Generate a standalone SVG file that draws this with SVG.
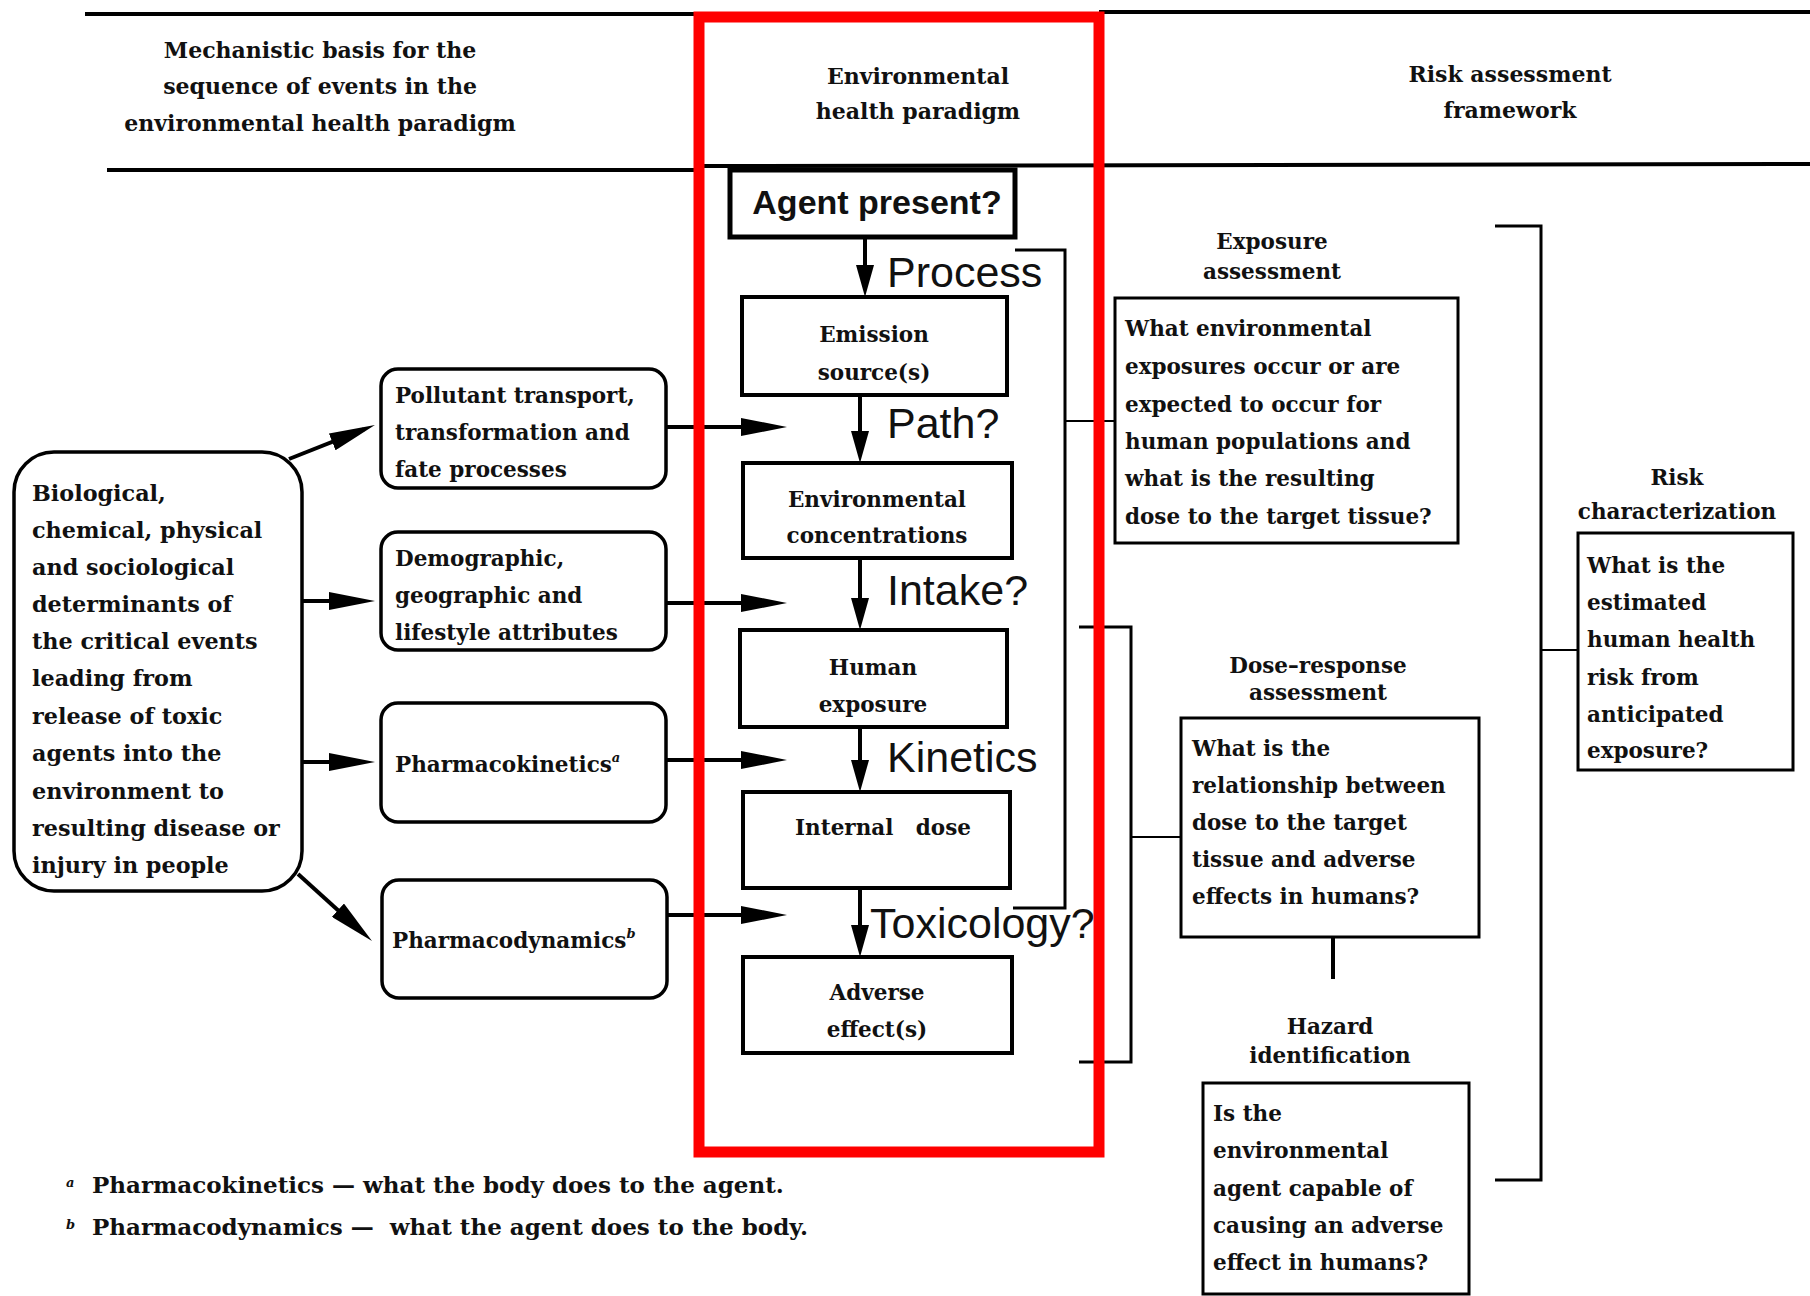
<svg xmlns="http://www.w3.org/2000/svg" width="1810" height="1296" viewBox="0 0 1810 1296">
<style>
.t{font-family:"DejaVu Serif","Liberation Serif",serif;font-weight:bold;font-size:21.5px;fill:#111}
.big{font-size:22.3px}
.fn{font-size:23px}
.c{text-anchor:middle}
.hd{font-family:"DejaVu Serif","Liberation Serif",serif;font-weight:bold;font-size:22px;fill:#111;text-anchor:middle}
.s{font-family:"Liberation Sans",Arial,sans-serif;font-size:43px;fill:#111}
.sb{font-family:"Liberation Sans",Arial,sans-serif;font-size:34px;font-weight:bold;fill:#111;text-anchor:middle}
.cbox{fill:#fff;stroke:#000;stroke-width:4}
.rbox{fill:#fff;stroke:#000;stroke-width:3.5}
.qbox{fill:#fff;stroke:#000;stroke-width:3}
.arr{stroke:#000;stroke-width:4;fill:none}
.br{stroke:#000;stroke-width:3;fill:none}
.ln{stroke:#000;stroke-width:2;fill:none}
.rule{stroke:#000;stroke-width:4}
.sup{font-size:13px;font-style:italic}
</style>
<defs>
<marker id="ah" markerUnits="userSpaceOnUse" viewBox="0 0 46 18" markerWidth="46" markerHeight="18" refX="34" refY="9" orient="auto"><path d="M0,0 L46,9 L0,18 Z" fill="#000"/></marker>
<marker id="av" markerUnits="userSpaceOnUse" viewBox="0 0 32 18" markerWidth="32" markerHeight="18" refX="24" refY="9" orient="auto"><path d="M0,0 L32,9 L0,18 Z" fill="#000"/></marker>
</defs>
<rect width="1810" height="1296" fill="#fff"/>

<g id="header">
<line class="rule" x1="85" y1="14" x2="699" y2="14"/>
<line class="rule" x1="1099" y1="12" x2="1810" y2="12"/>
<line class="rule" x1="107" y1="170" x2="699" y2="170"/>
<line class="rule" x1="699" y1="166" x2="1810" y2="164"/>
<text class="hd" x="320" y="58">Mechanistic basis for the</text>
<text class="hd" x="320" y="94">sequence of events in the</text>
<text class="hd" x="320" y="131">environmental health paradigm</text>
<text class="hd" x="918" y="84">Environmental</text>
<text class="hd" x="918" y="119">health paradigm</text>
<text class="hd" x="1510" y="82">Risk assessment</text>
<text class="hd" x="1510" y="118">framework</text>
</g>

<g id="connectors">
<line class="arr" x1="289" y1="459" x2="363.8" y2="429.4" marker-end="url(#ah)"/>
<line class="arr" x1="302" y1="601" x2="363" y2="601" marker-end="url(#ah)"/>
<line class="arr" x1="302" y1="762" x2="363" y2="762" marker-end="url(#ah)"/>
<line class="arr" x1="298" y1="874" x2="363.1" y2="933" marker-end="url(#ah)"/>
<line class="arr" x1="666" y1="427" x2="775" y2="427" marker-end="url(#ah)"/>
<line class="arr" x1="666" y1="603" x2="775" y2="603" marker-end="url(#ah)"/>
<line class="arr" x1="666" y1="760" x2="775" y2="760" marker-end="url(#ah)"/>
<line class="arr" x1="667" y1="915" x2="775" y2="915" marker-end="url(#ah)"/>
<line class="arr" x1="865" y1="237" x2="865" y2="289" marker-end="url(#av)"/>
<line class="arr" x1="860" y1="395" x2="860" y2="455" marker-end="url(#av)"/>
<line class="arr" x1="860" y1="558" x2="860" y2="622" marker-end="url(#av)"/>
<line class="arr" x1="860" y1="727" x2="860" y2="784" marker-end="url(#av)"/>
<line class="arr" x1="860" y1="888" x2="860" y2="949" marker-end="url(#av)"/>
<polyline class="br" points="1015,250 1065,250 1065,908 1013,908"/>
<line class="ln" x1="1065" y1="421" x2="1115" y2="421"/>
<polyline class="br" points="1079,627 1131,627 1131,1062 1079,1062"/>
<line class="ln" x1="1131" y1="837" x2="1181" y2="837"/>
<line class="arr" x1="1333" y1="937" x2="1333" y2="979"/>
<polyline class="br" points="1495,226 1541,226 1541,1180 1495,1180"/>
<line class="ln" x1="1541" y1="650" x2="1578" y2="650"/>
</g>

<g id="labels">
<text class="s" x="887" y="287">Process</text>
<text class="s" x="887" y="438">Path?</text>
<text class="s" x="887" y="605">Intake?</text>
<text class="s" x="887" y="772">Kinetics</text>
<text class="s" x="870" y="938">Toxicology?</text>
</g>

<g id="determinants">
<rect class="rbox" x="14" y="452" width="288" height="439" rx="40"/>
<text class="t big" x="32" y="501">Biological,</text>
<text class="t big" x="32" y="538">chemical, physical</text>
<text class="t big" x="32" y="575">and sociological</text>
<text class="t big" x="32" y="612">determinants of</text>
<text class="t big" x="32" y="649">the critical events</text>
<text class="t big" x="32" y="686">leading from</text>
<text class="t big" x="32" y="724">release of toxic</text>
<text class="t big" x="32" y="761">agents into the</text>
<text class="t big" x="32" y="799">environment to</text>
<text class="t big" x="32" y="836">resulting disease or</text>
<text class="t big" x="32" y="873">injury in people</text>
</g>

<g id="pollutant">
<rect class="rbox" x="381" y="369" width="285" height="119" rx="17"/>
<text class="t" x="395" y="403">Pollutant transport,</text>
<text class="t" x="395" y="440">transformation and</text>
<text class="t" x="395" y="477">fate processes</text>
</g>
<g id="demographic">
<rect class="rbox" x="381" y="532" width="285" height="118" rx="17"/>
<text class="t" x="395" y="566">Demographic,</text>
<text class="t" x="395" y="603">geographic and</text>
<text class="t" x="395" y="640">lifestyle attributes</text>
</g>
<g id="pharmacokinetics">
<rect class="rbox" x="381" y="703" width="285" height="119" rx="17"/>
<text class="t" x="395" y="772">Pharmacokinetics<tspan class="sup" dy="-10">a</tspan></text>
</g>
<g id="pharmacodynamics">
<rect class="rbox" x="382" y="880" width="285" height="118" rx="17"/>
<text class="t" x="392" y="948">Pharmacodynamics<tspan class="sup" dy="-10">b</tspan></text>
</g>

<g id="agent">
<rect class="cbox" x="730" y="170" width="285" height="67" style="stroke-width:5"/>
<text class="sb" x="877" y="214">Agent present?</text>
</g>
<g id="emission">
<rect class="cbox" x="742" y="297" width="265" height="98"/>
<text class="t c" x="874" y="342">Emission</text>
<text class="t c" x="874" y="380">source(s)</text>
</g>
<g id="envconc">
<rect class="cbox" x="743" y="463" width="269" height="95"/>
<text class="t c" x="877" y="507">Environmental</text>
<text class="t c" x="877" y="543">concentrations</text>
</g>
<g id="human">
<rect class="cbox" x="740" y="630" width="267" height="97"/>
<text class="t c" x="873" y="675">Human</text>
<text class="t c" x="873" y="712">exposure</text>
</g>
<g id="internal">
<rect class="cbox" x="743" y="792" width="267" height="96"/>
<text class="t c" x="883" y="835" xml:space="preserve">Internal   dose</text>
</g>
<g id="adverse">
<rect class="cbox" x="743" y="957" width="269" height="96"/>
<text class="t c" x="877" y="1000">Adverse</text>
<text class="t c" x="877" y="1037">effect(s)</text>
</g>

<g id="exposure-assessment">
<text class="t c" x="1272" y="249">Exposure</text>
<text class="t c" x="1272" y="279">assessment</text>
<rect class="qbox" x="1115" y="298" width="343" height="245"/>
<text class="t" x="1125" y="336">What environmental</text>
<text class="t" x="1125" y="374">exposures occur or are</text>
<text class="t" x="1125" y="412">expected to occur for</text>
<text class="t" x="1125" y="449">human populations and</text>
<text class="t" x="1125" y="486">what is the resulting</text>
<text class="t" x="1125" y="524">dose to the target tissue?</text>
</g>
<g id="dose-response">
<text class="t c" x="1318" y="673">Dose–response</text>
<text class="t c" x="1318" y="700">assessment</text>
<rect class="qbox" x="1181" y="718" width="298" height="219"/>
<text class="t" x="1192" y="756">What is the</text>
<text class="t" x="1192" y="793">relationship between</text>
<text class="t" x="1192" y="830">dose to the target</text>
<text class="t" x="1192" y="867">tissue and adverse</text>
<text class="t" x="1192" y="904">effects in humans?</text>
</g>
<g id="hazard">
<text class="t c" x="1330" y="1034">Hazard</text>
<text class="t c" x="1330" y="1063">identification</text>
<rect class="qbox" x="1203" y="1083" width="266" height="211"/>
<text class="t" x="1213" y="1121">Is the</text>
<text class="t" x="1213" y="1158">environmental</text>
<text class="t" x="1213" y="1196">agent capable of</text>
<text class="t" x="1213" y="1233">causing an adverse</text>
<text class="t" x="1213" y="1270">effect in humans?</text>
</g>
<g id="risk">
<text class="t c" x="1677" y="485">Risk</text>
<text class="t c" x="1677" y="519">characterization</text>
<rect class="qbox" x="1578" y="533" width="215" height="237"/>
<text class="t" x="1587" y="573">What is the</text>
<text class="t" x="1587" y="610">estimated</text>
<text class="t" x="1587" y="647">human health</text>
<text class="t" x="1587" y="685">risk from</text>
<text class="t" x="1587" y="722">anticipated</text>
<text class="t" x="1587" y="758">exposure?</text>
</g>

<g id="footnotes">
<text class="t" x="66" y="1187"><tspan class="sup">a</tspan></text>
<text class="t fn" x="92" y="1193">Pharmacokinetics — what the body does to the agent.</text>
<text class="t" x="66" y="1229"><tspan class="sup">b</tspan></text>
<text class="t fn" x="92" y="1235" xml:space="preserve">Pharmacodynamics —  what the agent does to the body.</text>
</g>

<g id="highlight">
<rect x="699" y="17" width="400" height="1135" fill="none" stroke="#f00" stroke-width="11"/>
</g>
</svg>
